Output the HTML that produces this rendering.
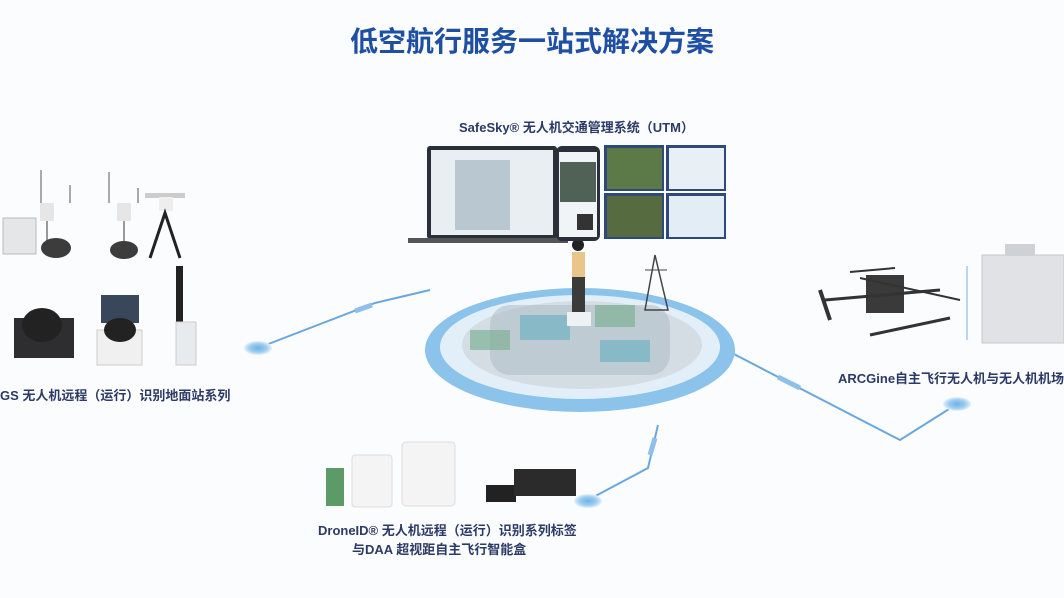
<!DOCTYPE html>
<html><head><meta charset="utf-8"><style>
html,body{margin:0;padding:0;background:#fbfcfd;}
body{width:1064px;height:598px;overflow:hidden;position:relative;font-family:"Liberation Sans","Noto Sans CJK SC",sans-serif;}
.t{position:absolute;white-space:nowrap;color:#2b3a66;font-weight:bold;}
</style></head><body>
<svg width="1064" height="598" style="position:absolute;left:0;top:0">
<defs>
<radialGradient id="node"><stop offset="0" stop-color="#6fb3e6"/><stop offset="0.6" stop-color="#9cccf0"/><stop offset="1" stop-color="#e6f2fb"/></radialGradient>
</defs>
<polyline points="258,348 375,303 430,290" fill="none" stroke="#6aa7dd" stroke-width="2"/>
<line x1="355" y1="311" x2="372" y2="305" stroke="#8fc0ea" stroke-width="5"/>
<polyline points="730,352 780,378 900,440 957,404" fill="none" stroke="#6aa7dd" stroke-width="2"/>
<line x1="778" y1="377" x2="800" y2="388" stroke="#8fc0ea" stroke-width="5"/>
<polyline points="588,500 648,468 658,425" fill="none" stroke="#6aa7dd" stroke-width="2"/>
<line x1="650" y1="455" x2="655" y2="438" stroke="#8fc0ea" stroke-width="5"/>
<ellipse cx="258" cy="348" rx="14" ry="7" fill="url(#node)"/>
<ellipse cx="957" cy="404" rx="14" ry="7" fill="url(#node)"/>
<ellipse cx="588" cy="501" rx="14" ry="7" fill="url(#node)"/>
<ellipse cx="580" cy="350" rx="155" ry="62" fill="#8cc3ea"/>
<ellipse cx="580" cy="347" rx="140" ry="52" fill="#e3eff8"/>
<ellipse cx="582" cy="345" rx="120" ry="44" fill="#d3dde3"/>
<rect x="490" y="305" width="180" height="70" rx="20" fill="#aebcc6" opacity="0.55"/>
<rect x="520" y="315" width="50" height="25" fill="#6fb2c0" opacity="0.7"/>
<rect x="600" y="340" width="50" height="22" fill="#6fb2c0" opacity="0.7"/>
<rect x="470" y="330" width="40" height="20" fill="#7fb096" opacity="0.7"/>
<rect x="595" y="305" width="40" height="22" fill="#7fb096" opacity="0.7"/>
<polygon points="655,255 645,310 668,310" fill="none" stroke="#444" stroke-width="1.5"/>
<line x1="645" y1="270" x2="667" y2="270" stroke="#444"/>
<circle cx="578" cy="245" r="6" fill="#222"/>
<rect x="572" y="252" width="13" height="25" fill="#e9c48b"/>
<rect x="572" y="277" width="13" height="35" fill="#3b3b3b"/>
<rect x="567" y="312" width="24" height="14" fill="#eef2f5"/>
<rect x="427" y="146" width="130" height="93" rx="3" fill="#2a2f3a"/>
<rect x="431" y="150" width="122" height="85" fill="#e9eef2"/>
<rect x="455" y="160" width="55" height="70" fill="#b9c8d0"/>
<rect x="408" y="238" width="160" height="5" fill="#555"/>
<rect x="556" y="146" width="44" height="95" rx="6" fill="#2a2f3a"/>
<rect x="559" y="152" width="38" height="85" fill="#f1f4f7"/>
<rect x="560" y="162" width="36" height="40" fill="#4f6255"/>
<rect x="577" y="214" width="16" height="16" fill="#333"/>
<rect x="604" y="145" width="60" height="46" fill="#2f4a7a"/><rect x="607" y="148" width="55" height="41" fill="#5c7a48"/>
<rect x="666" y="145" width="60" height="46" fill="#2f4a7a"/><rect x="669" y="148" width="55" height="41" fill="#e8f0f5"/>
<rect x="604" y="193" width="60" height="46" fill="#2f4a7a"/><rect x="607" y="196" width="55" height="41" fill="#566b3f"/>
<rect x="666" y="193" width="60" height="46" fill="#2f4a7a"/><rect x="669" y="196" width="55" height="41" fill="#e3edf5"/>
<rect x="3" y="218" width="33" height="36" fill="#e4e6e8" stroke="#bbb"/>
<rect x="40" y="203" width="14" height="18" fill="#e6e6e6"/>
<line x1="47" y1="221" x2="47" y2="245" stroke="#999" stroke-width="2"/>
<line x1="41" y1="170" x2="41" y2="203" stroke="#aaa" stroke-width="2"/>
<line x1="70" y1="185" x2="70" y2="203" stroke="#aaa" stroke-width="2"/>
<ellipse cx="56" cy="248" rx="15" ry="10" fill="#3c3c3c"/>
<rect x="117" y="203" width="14" height="18" fill="#e6e6e6"/>
<line x1="124" y1="221" x2="124" y2="245" stroke="#999" stroke-width="2"/>
<line x1="109" y1="172" x2="109" y2="203" stroke="#aaa" stroke-width="2"/>
<line x1="138" y1="188" x2="138" y2="203" stroke="#aaa" stroke-width="2"/>
<ellipse cx="124" cy="250" rx="14" ry="9" fill="#3c3c3c"/>
<rect x="145" y="193" width="40" height="5" fill="#ccc"/><rect x="159" y="197" width="14" height="14" fill="#eee"/>
<polyline points="150,258 165,213 180,258" fill="none" stroke="#222" stroke-width="3"/>
<rect x="14" y="318" width="60" height="40" fill="#2e2e30"/>
<ellipse cx="42" cy="325" rx="20" ry="17" fill="#222"/>
<rect x="101" y="295" width="38" height="28" fill="#39475a"/>
<rect x="97" y="330" width="45" height="35" fill="#f0f0f0" stroke="#ccc"/>
<ellipse cx="120" cy="330" rx="16" ry="12" fill="#222"/>
<rect x="176" y="266" width="7" height="58" fill="#222"/>
<rect x="176" y="322" width="20" height="43" fill="#e8ebee" stroke="#ccc"/>
<rect x="866" y="275" width="38" height="38" fill="#3a3a3a"/>
<line x1="825" y1="300" x2="940" y2="290" stroke="#333" stroke-width="3"/>
<line x1="860" y1="278" x2="960" y2="300" stroke="#333" stroke-width="2"/>
<line x1="820" y1="290" x2="830" y2="320" stroke="#333" stroke-width="4"/>
<line x1="870" y1="335" x2="950" y2="318" stroke="#333" stroke-width="3"/>
<line x1="850" y1="272" x2="895" y2="268" stroke="#333" stroke-width="2"/>
<line x1="967" y1="266" x2="967" y2="340" stroke="#a7c8e6" stroke-width="1.5"/>
<rect x="982" y="255" width="82" height="88" fill="#e0e2e5" stroke="#c8c8c8"/>
<rect x="1005" y="244" width="30" height="12" fill="#cfd2d5"/>
<rect x="326" y="468" width="18" height="38" fill="#5c9a68"/>
<rect x="352" y="455" width="40" height="52" rx="3" fill="#f4f4f4" stroke="#ddd"/>
<rect x="402" y="442" width="53" height="64" rx="4" fill="#f4f4f4" stroke="#ddd"/>
<rect x="486" y="485" width="30" height="17" fill="#222"/>
<rect x="514" y="469" width="62" height="27" fill="#2b2b2b"/>
</svg>
<div class="t" style="left:0;top:20px;width:1064px;text-align:center;font-size:28px;color:#1f4fa3;">低空航行服务一站式解决方案</div>
<div class="t" style="left:459px;top:117px;font-size:13px;">SafeSky® 无人机交通管理系统（UTM）</div>
<div class="t" style="left:0;top:385px;font-size:13px;">GS 无人机远程（运行）识别地面站系列</div>
<div class="t" style="left:838px;top:368px;font-size:13px;">ARCGine自主飞行无人机与无人机机场</div>
<div class="t" style="left:318px;top:520px;font-size:13px;">DroneID® 无人机远程（运行）识别系列标签</div>
<div class="t" style="left:352px;top:539px;font-size:13px;">与DAA 超视距自主飞行智能盒</div>
</body></html>
